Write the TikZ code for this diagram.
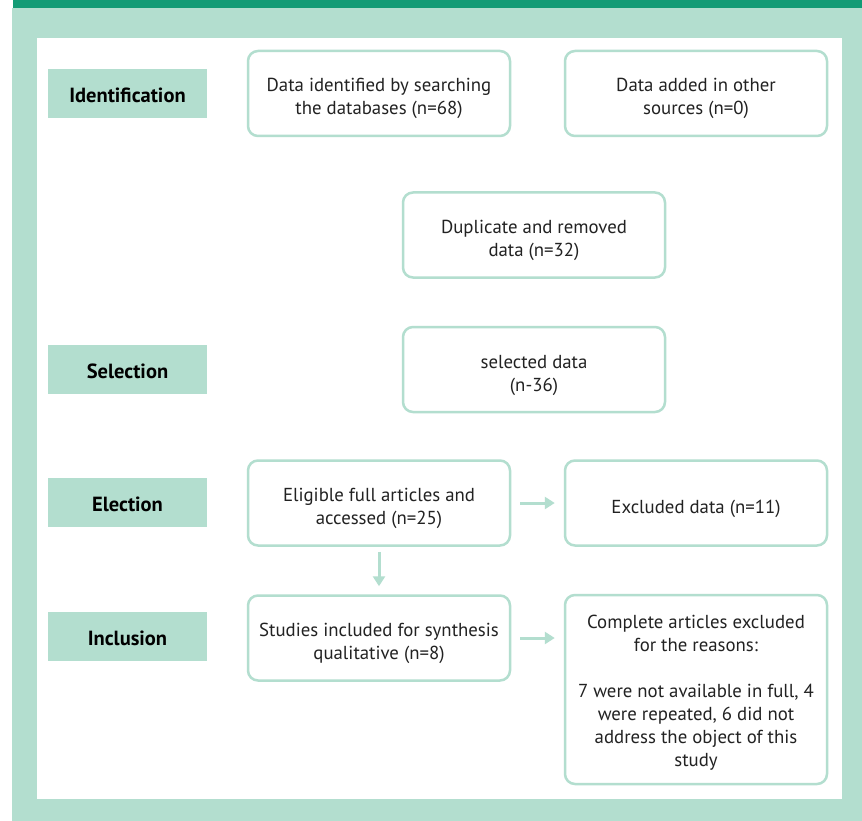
\documentclass[tikz,border=0pt]{standalone}
\usepackage{fontspec}
\setmainfont{PT Sans}
\usetikzlibrary{arrows.meta}
\definecolor{mint}{HTML}{B3DECF}
\definecolor{deepgreen}{HTML}{129B75}
\definecolor{inktext}{HTML}{222222}
\tikzset{
  stagelabel/.style={fill=mint, minimum width=159pt, minimum height=49pt, inner sep=0pt,
    font=\fontsize{20.5}{23}\selectfont\bfseries, text=black,
    execute at begin node={\rule{0pt}{19pt}}},
  flowbox/.style={draw=mint, line width=2.5pt, rounded corners=10pt, fill=white,
    minimum width=262pt, minimum height=85pt, inner sep=0pt, align=center,
    font=\fontsize{18.8}{23}\selectfont, text=inktext, text depth=0pt, text height=43pt},
  flowarrow/.style={draw=mint, line width=3pt, -{Triangle[width=12pt,length=10pt]}}
}
\begin{document}
\begin{tikzpicture}[x=1pt, y=-1pt]
  \useasboundingbox (0,0) rectangle (862,821);
  \fill[white] (0,0) rectangle (862,821);
  \fill[mint] (12,8) rectangle (862,821); % outer frame
  \fill[deepgreen] (13,0) rectangle (862,8); % top strip
  \fill[white] (37,38) rectangle (842,799); % inner panel

  % stage labels
  \node[stagelabel] (identification) at (127.5,93.5) {Identification};
  \node[stagelabel] (selection) at (127.5,369.5) {Selection};
  \node[stagelabel] (election) at (127.5,502.5) {Election};
  \node[stagelabel] (inclusion) at (127.5,636) {Inclusion};

  % boxes
  \node[flowbox] (searched) at (379,93.5) {Data identified by searching\\the databases (n=68)};
  \node[flowbox] (othersrc) at (696,93.5) {Data added in other\\sources (n=0)};
  \node[flowbox] (duplicate) at (534,235) {Duplicate and removed\\data (n=32)};
  \node[flowbox] (selected) at (534,369.5) {selected data\\(n-36)};
  \node[flowbox] (eligible) at (379,503) {Eligible full articles and\\accessed (n=25)};
  \node[flowbox, text height=20pt] (excluded) at (696,503) {Excluded data (n=11)};
  \node[flowbox] (included) at (379,638) {Studies included for synthesis\\qualitative (n=8)};
  \node[flowbox, minimum height=189pt, text height=154pt] (reasons) at (696,689.5)
    {Complete articles excluded\\for the reasons:\\[23pt]7 were not available in full, 4\\were repeated, 6 did not\\address the object of this\\study};

  % arrows
  \draw[flowarrow, shorten <=9pt, shorten >=9pt] (eligible.east) -- (excluded.west);
  \draw[flowarrow, shorten <=5pt, shorten >=8pt] (eligible.south) -- (included.north);
  \draw[flowarrow, shorten <=9pt, shorten >=9pt] (included.east) -- (included.east -| reasons.west);
\end{tikzpicture}
\end{document}
